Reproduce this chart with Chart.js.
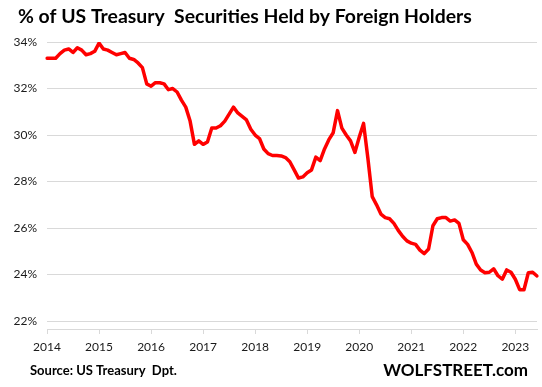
<!DOCTYPE html>
<html>
<head>
<meta charset="utf-8">
<script src="https://cdn.jsdelivr.net/npm/chart.js@4/dist/chart.umd.min.js"></script>
<style>
  html, body { margin: 0; padding: 0; background: #fff; }
  #wrap { width: 542px; height: 387px; position: relative; }
</style>
</head>
<body>
<div id="wrap"><canvas id="chart"></canvas></div>
<script>
// monthly, Jan 2014 .. Jun 2023
const years = [2014, 2015, 2016, 2017, 2018, 2019, 2020, 2021, 2022, 2023];
const months = [];
years.forEach(y => {
    for (let m = 1; m <= 12; m++) {
        if (y === 2023 && m > 6) break;
        months.push(y + '-' + (m < 10 ? '0' + m : m));
    }
});

// % of US Treasury securities held by foreign holders
const foreignShare = [
    33.3, 33.3, 33.3, 33.5, 33.65, 33.7, 33.55, 33.75, 33.65, 33.45, 33.5, 33.6,   // 2014
    33.95, 33.7, 33.65, 33.55, 33.45, 33.5, 33.55, 33.3, 33.25, 33.1, 32.9, 32.2,  // 2015
    32.1, 32.25, 32.25, 32.2, 31.95, 32.0, 31.85, 31.5, 31.2, 30.6, 29.6, 29.75,   // 2016
    29.6, 29.7, 30.3, 30.3, 30.4, 30.6, 30.9, 31.2, 30.95, 30.8, 30.65, 30.25,     // 2017
    30.0, 29.85, 29.4, 29.2, 29.12, 29.12, 29.1, 29.03, 28.85, 28.5, 28.15, 28.2,  // 2018
    28.38, 28.5, 29.05, 28.9, 29.4, 29.8, 30.1, 31.05, 30.3, 30.0, 29.75, 29.25,   // 2019
    29.9, 30.5, 29.0, 27.35, 27.0, 26.6, 26.45, 26.4, 26.2, 25.9, 25.65, 25.45,    // 2020
    25.35, 25.3, 25.05, 24.9, 25.1, 26.1, 26.4, 26.45, 26.45, 26.3, 26.35, 26.2,   // 2021
    25.5, 25.3, 24.95, 24.45, 24.2, 24.08, 24.1, 24.25, 23.95, 23.8, 24.2, 24.1,   // 2022
    23.8, 23.35, 23.35, 24.08, 24.1, 23.94                                          // 2023
];

const yTicks = [22, 24, 26, 28, 30, 32, 34];

const titleText = '% of US Treasury  Securities Held by Foreign Holders';
const sourceText = 'Source: US Treasury  Dpt.';
const brandText = 'WOLFSTREET.com';

// draws title and the two footer texts
const textPlugin = {
    id: 'texts',
    afterDraw(chart) {
        const ctx = chart.ctx;
        ctx.save();
        ctx.fillStyle = '#000';
        ctx.textBaseline = 'alphabetic';
        ctx.textAlign = 'left';
        ctx.font = 'bold 19.4px Lato';
        ctx.fillText(titleText, 18, 23);
        ctx.font = 'bold 13px Lato';
        ctx.fillText(sourceText, 30, 375);
        ctx.font = 'bold 17px Lato';
        ctx.textAlign = 'right';
        ctx.fillText(brandText, 528, 376);
        ctx.restore();
    }
};

new Chart(document.getElementById('chart'), {
    type: 'line',
    data: {
        labels: months,
        datasets: [{
            data: foreignShare,
            borderColor: '#ff0000',
            borderWidth: 3.5,
            pointRadius: 0,
            tension: 0,
            borderJoinStyle: 'round',
            borderCapStyle: 'round',
        }]
    },
    options: {
        responsive: true,
        maintainAspectRatio: false,
        animation: false,
        layout: { padding: { top: 42, right: 5, bottom: 0, left: 0 } },
        plugins: {
            legend: { display: false },
            tooltip: { enabled: false },
            title: { display: false },
        },
        scales: {
            x: {
                type: 'category',
                offset: false,
                grid: {
                    display: true,
                    drawOnChartArea: false,
                    drawTicks: true,
                    tickLength: 5,
                    color: '#d9d9d9',
                },
                border: { display: true, color: '#d9d9d9', width: 1 },
                ticks: {
                    autoSkip: false,
                    maxRotation: 0,
                    padding: 6,
                    color: '#1a1a1a',
                    font: { family: 'Lato', size: 12 },
                    callback: function (val, i) {
                        const lab = months[i];
                        return lab.endsWith('-01') ? lab.slice(0, 4) : null;
                    }
                },
                afterFit: (scale) => { scale.height = 58; },
            },
            y: {
                min: 21.66,
                max: 34,
                afterBuildTicks: (scale) => {
                    scale.ticks = yTicks.map(v => ({ value: v }));
                },
                grid: {
                    color: '#d9d9d9',
                    drawTicks: false,
                },
                border: { display: false },
                ticks: {
                    padding: 10,
                    color: '#1a1a1a',
                    font: { family: 'Lato', size: 12 },
                    callback: (v) => v + '%',
                },
                afterFit: (scale) => { scale.width = 47; },
            }
        }
    },
    plugins: [textPlugin]
});
</script>
</body>
</html>
